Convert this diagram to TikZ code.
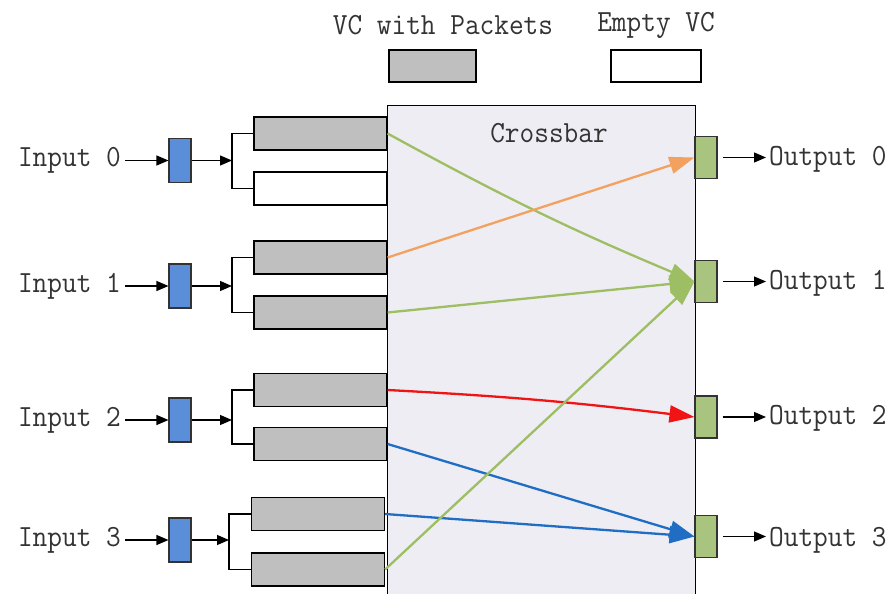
\documentclass[tikz,border=0pt]{standalone}
\usetikzlibrary{arrows.meta}
\definecolor{vcgray}{HTML}{BFBFBF}
\definecolor{inblue}{HTML}{5B8ED8}
\definecolor{outgreen}{HTML}{A9C47F}
\definecolor{xbarfill}{HTML}{EEEDF3}
\definecolor{lgreen}{HTML}{9DBE62}
\definecolor{lorange}{HTML}{F3A15E}
\definecolor{lred}{HTML}{F01414}
\definecolor{lblue}{HTML}{1F6EC4}
\definecolor{txt}{HTML}{333333}
\newcommand\lbl[1]{\scalebox{1}[1.08]{#1}}
\begin{document}
\begin{tikzpicture}[x=1pt,y=-1pt,
  every node/.style={font=\ttfamily\fontsize{28.5}{32}\selectfont, text=txt},
  vcfull/.style={draw=black, fill=vcgray, line width=1.2pt, minimum width=133pt, minimum height=33pt, inner sep=0pt},
  vcempty/.style={vcfull, fill=white},
  inbuf/.style={draw=black!80, fill=inblue, line width=1.1pt, minimum width=22pt, minimum height=44pt, inner sep=0pt},
  outbuf/.style={draw=black!80, fill=outgreen, line width=1.1pt, minimum width=22pt, minimum height=42pt, inner sep=0pt},
  feed/.style={-{Triangle[length=12pt,width=10pt]}, line width=1.2pt, black},
  branch/.style={line width=1.1pt, black},
  route/.style={line width=2.3pt, -{Triangle[length=25pt,width=17pt]}},
  txtlabel/.style={inner sep=0pt}
]
\useasboundingbox (0,0) rectangle (895,594);

% crossbar body (runs past the lower edge)
\node[draw=black, fill=xbarfill, line width=1.2pt, minimum width=308pt, minimum height=520pt, inner sep=0pt, anchor=north west] (xbar) at (387,105) {};
\node[txtlabel] (xbarlbl) at (549,133) {\lbl{Crossbar}};

% legend
\node[txtlabel] (lgfull) at (443,25) {\lbl{VC with Packets}};
\node[txtlabel] (lgempty) at (656,25) {\lbl{Empty VC}};
\node[vcfull, minimum width=87pt, minimum height=32pt] (lgfullbox) at (432.5,66) {};
\node[vcempty, minimum width=90pt, minimum height=32pt] (lgemptybox) at (656,66) {};

% virtual channels
\node[vcfull]  (v0a) at (320.5,133.5) {};
\node[vcempty] (v0b) at (320.5,188.5) {};
\node[vcfull]  (v1a) at (320.5,257.5) {};
\node[vcfull]  (v1b) at (320.5,312.5) {};
\node[vcfull]  (v2a) at (320.5,390) {};
\node[vcfull]  (v2b) at (320.5,444) {};
\node[vcfull]  (v3a) at (318,514) {};
\node[vcfull]  (v3b) at (318,569.5) {};

% input buffers and labels
\node[inbuf] (b0) at (180,160.5) {};
\node[inbuf] (b1) at (180,286) {};
\node[inbuf] (b2) at (180,420) {};
\node[inbuf] (b3) at (180,540) {};
\node[txtlabel, anchor=east] (in0) at (121,160.5) {\lbl{Input 0}};
\node[txtlabel, anchor=east] (in1) at (121,286) {\lbl{Input 1}};
\node[txtlabel, anchor=east] (in2) at (121,420) {\lbl{Input 2}};
\node[txtlabel, anchor=east] (in3) at (121,540) {\lbl{Input 3}};

% demux points
\coordinate (s0) at (232,160.5);
\coordinate (s1) at (232,286);
\coordinate (s2) at (232,420);
\coordinate (s3) at (229,540);

\foreach \i in {0,1,2,3}{
  \draw[feed] ([xshift=4pt]in\i.east |- b\i.west) -- (b\i.west);
  \draw[feed] (b\i.east) -- (s\i);
  \draw[branch] (v\i a.west) -| (s\i) |- (v\i b.west);
}

% output buffers and labels
\node[outbuf] (o0) at (706,157.5) {};
\node[outbuf] (o1) at (706,281.5) {};
\node[outbuf] (o2) at (706,417) {};
\node[outbuf] (o3) at (706,536.5) {};
\node[txtlabel, anchor=west] (out0) at (769,159) {\lbl{Output 0}};
\node[txtlabel, anchor=west] (out1) at (769,283) {\lbl{Output 1}};
\node[txtlabel, anchor=west] (out2) at (769,418) {\lbl{Output 2}};
\node[txtlabel, anchor=west] (out3) at (769,540) {\lbl{Output 3}};
\foreach \i in {0,1,2,3}{
  \draw[feed] ([xshift=5pt]o\i.east) -- ([xshift=-3pt]out\i.west |- o\i.east);
}

% switch traversals
\draw[route, lgreen] (v0a.east) to[bend right=3] (o1.west);
\draw[route, lorange] (v1a.east) -- (o0.west);
\draw[route, lgreen] (v1b.east) -- (o1.west);
\draw[route, lred] (v2a.east) to[bend left=2] (o2.west);
\draw[route, lblue] (v2b.east) -- (o3.west);
\draw[route, lblue] (v3a.east) -- (o3.west);
\draw[route, lgreen] (v3b.east) -- (o1.west);
\end{tikzpicture}
\end{document}
